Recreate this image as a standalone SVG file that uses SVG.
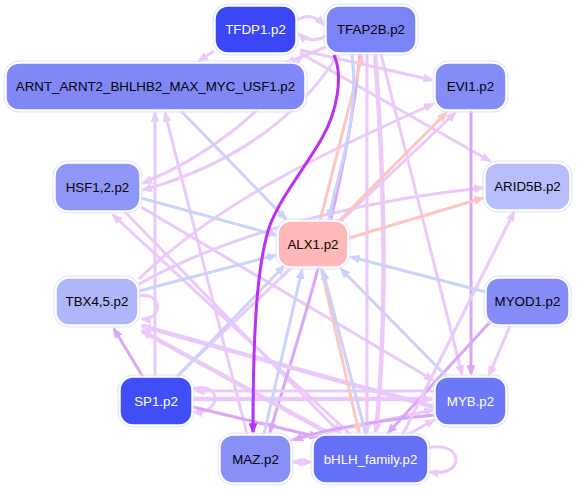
<svg xmlns="http://www.w3.org/2000/svg" width="578" height="489" viewBox="0 0 578 489">
<style>
.n rect.f{stroke:#ffffff;stroke-width:1.5}
.n rect.o{fill:none;stroke:#dfe2fe;stroke-width:1}
.n text{font-family:"Liberation Sans",Arial,sans-serif;font-size:13.3px;text-anchor:middle}
.w{fill:#ffffff}
.k{fill:#000000}
.e path{fill:none;stroke-linecap:butt}
.lv{stroke:#ebc9fb;stroke-width:3;marker-end:url(#a-lv)}
.mv{stroke:#dca6f8;stroke-width:3;marker-end:url(#a-mv)}
.dp{stroke:#b930f6;stroke-width:3;marker-end:url(#a-dp)}
.bl{stroke:#cbd2fb;stroke-width:3;marker-end:url(#a-bl)}
.sa{stroke:#ffc5c0;stroke-width:3;marker-end:url(#a-sa)}
.t4{stroke-width:4.5}
</style>
<defs>
<marker id="a-lv" viewBox="0 0 10 8" refX="8" refY="4" markerWidth="11" markerHeight="9" orient="auto-start-reverse" markerUnits="userSpaceOnUse"><path d="M0,0 L10,4 L0,8 z" fill="#ebc9fb"/></marker>
<marker id="a-mv" viewBox="0 0 10 8" refX="8" refY="4" markerWidth="11" markerHeight="9" orient="auto" markerUnits="userSpaceOnUse"><path d="M0,0 L10,4 L0,8 z" fill="#dca6f8"/></marker>
<marker id="a-dp" viewBox="0 0 10 8" refX="8" refY="4" markerWidth="11" markerHeight="9" orient="auto" markerUnits="userSpaceOnUse"><path d="M0,0 L10,4 L0,8 z" fill="#b930f6"/></marker>
<marker id="a-bl" viewBox="0 0 10 8" refX="8" refY="4" markerWidth="11" markerHeight="9" orient="auto" markerUnits="userSpaceOnUse"><path d="M0,0 L10,4 L0,8 z" fill="#cbd2fb"/></marker>
<marker id="a-sa" viewBox="0 0 10 8" refX="8" refY="4" markerWidth="11" markerHeight="9" orient="auto" markerUnits="userSpaceOnUse"><path d="M0,0 L10,4 L0,8 z" fill="#ffc5c0"/></marker>
</defs>
<g id="connectors" class="e">
<path class="lv" d="M214,51 L199,61"/>
<path class="lv" d="M326,47 C310,53 300,58 286,63"/>
<path class="lv" d="M297,20 C308,13 316,17 324,25"/>
<path class="lv" d="M326,36 C316,42 306,40 299,34"/>
<path class="lv" d="M300,50 L432,80"/>
<path class="lv" d="M300,53 L490,161"/>
<path class="lv" d="M302,56 C265,115 200,160 143,183"/>
<path class="lv" d="M338,55 C290,130 215,170 143,190"/>
<path class="lv" d="M139,279 C220,200 330,150 433,104"/>
<path class="lv" d="M139,284 C250,222 400,196 483,188"/>
<path class="lv" d="M138,296 C162,290 164,320 142,319"/>
<path class="lv" d="M176,377 L455,113"/>
<path class="lv" d="M141,207 L433,380"/>
<path class="lv" d="M125,212 L340,433"/>
<path class="lv" d="M350,434 L113,215"/>
<path class="lv" d="M155,377 L155,113"/>
<path class="lv" d="M247,434 L165,113"/>
<path class="lv" d="M367,54 L367,432"/>
<path class="lv t4" d="M375,54 C386,200 386,330 376,432"/>
<path class="lv" d="M381,54 L462,374"/>
<path class="mv" d="M360,54 C345,200 300,330 270,432"/>
<path class="lv t4" d="M434,407 L142,326"/>
<path class="lv t4" d="M330,434 L142,331"/>
<path class="lv t4" d="M193,399 L432,399"/>
<path class="lv" d="M434,391 L196,391"/>
<path class="lv" d="M193,389 C222,380 222,415 194,412"/>
<path class="mv" d="M193,407 L318,437"/>
<path class="lv" d="M290,440 L433,410"/>
<path class="mv" d="M435,415 C380,420 320,430 294,440"/>
<path class="mv" d="M143,377 L114,329"/>
<path class="mv" d="M471,111 L471,374"/>
<path class="lv" d="M510,326 L489,375"/>
<path class="mv" d="M492,320 L388,433"/>
<path class="lv" d="M402,436 L514,212"/>
<path class="lv" d="M405,436 L434,420"/>
<path class="lv" d="M428,448 C465,440 465,478 430,472"/>
<path class="lv" style="marker-start:url(#a-lv)" d="M293,462 L311,462"/>
<path class="sa" d="M320,221 L362,56"/>
<path class="sa" d="M338,222 L446,113"/>
<path class="sa" d="M349,238 L483,198"/>
<path class="sa" d="M321,268 L359,432"/>
<path class="bl" d="M352,54 C360,120 338,170 329,218"/>
<path class="bl" d="M366,435 L323,271"/>
<path class="bl" d="M181,111 L286,219"/>
<path class="bl" d="M141,198 L276,235"/>
<path class="bl" d="M139,291 L276,255"/>
<path class="bl" d="M177,377 L284,266"/>
<path class="bl" d="M264,434 L302,270"/>
<path class="bl" d="M447,377 L341,269"/>
<path class="bl" d="M486,292 L351,257"/>
<path class="dp" d="M334,55 C343,75 338,110 322,138 C305,168 282,195 270,225 C258,260 253,320 253,432"/>
</g>
<g id="TFDP1" class="n"><rect class="o" x="213" y="4" width="85" height="51" rx="15"/><rect class="f" x="215" y="6" width="81" height="47" rx="13" fill="#3b47f6"/><text class="w" x="255.5" y="34">TFDP1.p2</text></g>
<g id="TFAP2B" class="n"><rect class="o" x="324" y="4" width="94" height="51" rx="15"/><rect class="f" x="326" y="6" width="90" height="47" rx="13" fill="#7b84f7"/><text class="k" x="371" y="34">TFAP2B.p2</text></g>
<g id="ARNT" class="n"><rect class="o" x="4" y="61" width="303" height="51" rx="15"/><rect class="f" x="6" y="63" width="299" height="47" rx="13" fill="#8088f8"/><text class="k" x="155.5" y="91">ARNT_ARNT2_BHLHB2_MAX_MYC_USF1.p2</text></g>
<g id="EVI1" class="n"><rect class="o" x="433" y="61" width="75" height="51" rx="15"/><rect class="f" x="435" y="63" width="71" height="47" rx="13" fill="#848cf8"/><text class="k" x="470.5" y="91">EVI1.p2</text></g>
<g id="HSF12" class="n"><rect class="o" x="53" y="161" width="89" height="52" rx="15"/><rect class="f" x="55" y="163" width="85" height="48" rx="13" fill="#8e97f8"/><text class="k" x="97.5" y="191.5">HSF1,2.p2</text></g>
<g id="ARID5B" class="n"><rect class="o" x="483" y="161" width="89" height="51" rx="15"/><rect class="f" x="485" y="163" width="85" height="47" rx="13" fill="#b8befb"/><text class="k" x="527.5" y="191">ARID5B.p2</text></g>
<g id="ALX1" class="n"><rect class="o" x="276" y="219" width="74" height="50" rx="15"/><rect class="f" x="278" y="221" width="70" height="46" rx="13" fill="#ffb8b8"/><text class="k" x="313" y="248.5">ALX1.p2</text></g>
<g id="TBX45" class="n"><rect class="o" x="54" y="276" width="86" height="51" rx="15"/><rect class="f" x="56" y="278" width="82" height="47" rx="13" fill="#b0b6fa"/><text class="k" x="97" y="306">TBX4,5.p2</text></g>
<g id="MYOD1" class="n"><rect class="o" x="484" y="276" width="87" height="51" rx="15"/><rect class="f" x="486" y="278" width="83" height="47" rx="13" fill="#848cf8"/><text class="k" x="527.5" y="306">MYOD1.p2</text></g>
<g id="SP1" class="n"><rect class="o" x="118" y="375" width="76" height="52" rx="15"/><rect class="f" x="120" y="377" width="72" height="48" rx="13" fill="#404ef5"/><text class="w" x="156" y="405.5">SP1.p2</text></g>
<g id="MYB" class="n"><rect class="o" x="433" y="375" width="75" height="52" rx="15"/><rect class="f" x="435" y="377" width="71" height="48" rx="13" fill="#6c78f6"/><text class="w" x="470.5" y="405.5">MYB.p2</text></g>
<g id="MAZ" class="n"><rect class="o" x="218" y="433" width="75" height="52" rx="15"/><rect class="f" x="220" y="435" width="71" height="48" rx="13" fill="#8890f8"/><text class="k" x="255.5" y="463.5">MAZ.p2</text></g>
<g id="bHLH" class="n"><rect class="o" x="311" y="433" width="119" height="52" rx="15"/><rect class="f" x="313" y="435" width="115" height="48" rx="13" fill="#6470f6"/><text class="w" x="370.5" y="463.5">bHLH_family.p2</text></g>
</svg>
